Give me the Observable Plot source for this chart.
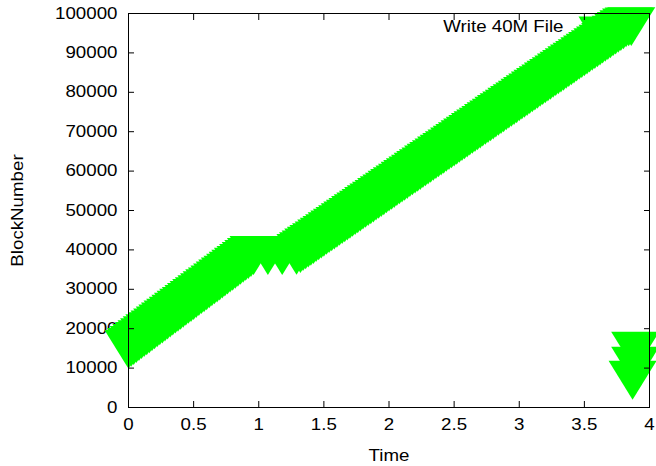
<!DOCTYPE html>
<html>
<head>
<meta charset="utf-8">
<script src="https://cdn.jsdelivr.net/npm/d3@7"></script>
<script src="https://cdn.jsdelivr.net/npm/@observablehq/plot@0.6"></script>
<style>
  html, body { margin: 0; padding: 0; background: #fff; }
  #chart { width: 656px; height: 466px; }
</style>
</head>
<body>
<div id="chart"></div>
<script>
// ---- data ----
const xLabel = "Time";
const yLabel = "BlockNumber";
const keyLabel = "Write 40M File";
const xTicks = [0, 0.5, 1, 1.5, 2, 2.5, 3, 3.5, 4];
const yTicks = [0, 10000, 20000, 30000, 40000, 50000, 60000, 70000, 80000, 90000, 100000];

// main write stream (time in s, block number)
const times = [
  0.00, 0.02, 0.04, 0.06, 0.08, 0.10, 0.12, 0.14, 0.16, 0.18, 0.20, 0.22, 0.24, 0.26, 0.28, 0.30,
  0.32, 0.34, 0.36, 0.38, 0.40, 0.42, 0.44, 0.46, 0.48, 0.50, 0.52, 0.54, 0.56, 0.58, 0.60, 0.62,
  0.64, 0.66, 0.68, 0.70, 0.72, 0.74, 0.76, 0.78, 0.80, 0.82, 0.84, 0.86, 0.88, 0.90, 0.92, 0.94, 0.96,
  1.07, 1.18, 1.29,
  1.32, 1.34, 1.36, 1.38, 1.40, 1.42, 1.44, 1.46, 1.48, 1.50, 1.52, 1.54, 1.56, 1.58, 1.60, 1.62,
  1.64, 1.66, 1.68, 1.70, 1.72, 1.74, 1.76, 1.78, 1.80, 1.82, 1.84, 1.86, 1.88, 1.90, 1.92, 1.94,
  1.96, 1.98, 2.00, 2.02, 2.04, 2.06, 2.08, 2.10, 2.12, 2.14, 2.16, 2.18, 2.20, 2.22, 2.24, 2.26,
  2.28, 2.30, 2.32, 2.34, 2.36, 2.38, 2.40, 2.42, 2.44, 2.46, 2.48, 2.50, 2.52, 2.54, 2.56, 2.58,
  2.60, 2.62, 2.64, 2.66, 2.68, 2.70, 2.72, 2.74, 2.76, 2.78, 2.80, 2.82, 2.84, 2.86, 2.88, 2.90,
  2.92, 2.94, 2.96, 2.98, 3.00, 3.02, 3.04, 3.06, 3.08, 3.10, 3.12, 3.14, 3.16, 3.18, 3.20, 3.22,
  3.24, 3.26, 3.28, 3.30, 3.32, 3.34, 3.36, 3.38, 3.40, 3.42, 3.44, 3.46, 3.48, 3.50, 3.52, 3.54,
  3.56, 3.58, 3.60, 3.62, 3.64, 3.66, 3.68, 3.70, 3.72, 3.74, 3.76, 3.78, 3.80, 3.82, 3.84, 3.86
];
const blocks = [
  16400, 16900, 17390, 17890, 18380, 18880, 19380, 19870, 20370, 20860, 21360, 21860, 22350, 22850, 23340, 23840,
  24340, 24830, 25330, 25820, 26320, 26820, 27310, 27810, 28300, 28800, 29300, 29790, 30290, 30780, 31280, 31780,
  32270, 32770, 33260, 33760, 34260, 34750, 35250, 35740, 36240, 36740, 37230, 37730, 38220, 38720, 39220, 39710, 40210,
  40200, 40200, 40250,
  40740, 41200, 41660, 42120, 42570, 43030, 43490, 43950, 44400, 44860, 45320, 45780, 46240, 46690, 47150, 47610,
  48070, 48530, 48980, 49440, 49900, 50360, 50820, 51270, 51730, 52190, 52650, 53110, 53560, 54020, 54480, 54940,
  55400, 55850, 56310, 56770, 57230, 57690, 58140, 58600, 59060, 59520, 59980, 60430, 60890, 61350, 61810, 62270,
  62720, 63180, 63640, 64100, 64560, 65010, 65470, 65930, 66390, 66850, 67300, 67760, 68220, 68680, 69140, 69590,
  70050, 70510, 70970, 71430, 71880, 72340, 72800, 73260, 73720, 74170, 74630, 75090, 75550, 76010, 76460, 76920,
  77380, 77840, 78300, 78750, 79210, 79670, 80130, 80590, 81040, 81500, 81960, 82420, 82880, 83330, 83790, 84250,
  84710, 85170, 85620, 86080, 86540, 87000, 87460, 87910, 88370, 88830, 89290, 89750, 90200, 90660, 91120, 91580,
  92040, 92490, 92950, 93410, 93870, 94330, 94780, 95240, 95700, 96160, 96620, 97070, 97530, 97990, 98250, 98300
];

// isolated low-block writes at the end
const metaTimes = [3.89, 3.89, 3.87];
const metaBlocks = [15940, 12130, 8550];

// ---- build ----
const GREEN = "#00ff00";
const band = times.map((t, i) => ({t, b: blocks[i]}));
const meta = metaTimes.map((t, i) => ({t, b: metaBlocks[i]}));

// gnuplot-style filled down-triangle
const triDown = {
  draw(ctx, size) {
    const r = Math.sqrt(size / Math.PI);
    ctx.moveTo(-r, -0.54 * r);
    ctx.lineTo(r, -0.54 * r);
    ctx.lineTo(0, 1.08 * r);
    ctx.closePath();
  }
};

const chart = Plot.plot({
  width: 656,
  height: 466,
  marginLeft: 128,
  marginRight: 7,
  marginTop: 13,
  marginBottom: 59,
  x: {domain: [0, 4]},
  y: {domain: [0, 100000]},
  style: {fontFamily: "'Liberation Sans', Arial, sans-serif", fontSize: "16px", color: "black", background: "white"},
  marks: [
    Plot.axisX(xTicks, {tickSize: 0, tickPadding: 11, tickFormat: d => String(d), label: null}),
    Plot.axisY(yTicks, {tickSize: 0, tickPadding: 11, tickFormat: d => String(d), label: null}),
    Plot.text([yLabel], {frameAnchor: "left", dx: -111, rotate: -90, textAnchor: "middle", lineAnchor: "middle", fill: "black"}),
    Plot.text([xLabel], {frameAnchor: "bottom", dy: 48, textAnchor: "middle", lineAnchor: "middle", fill: "black"}),
    Plot.text([keyLabel], {frameAnchor: "top-right", dx: -86, dy: 13, textAnchor: "end", lineAnchor: "middle", fill: "black"}),
    Plot.dot([keyLabel], {frameAnchor: "top-right", dx: -47, dy: 16, symbol: triDown, r: 24, fill: GREEN, stroke: "none"}),
    Plot.dot(band, {x: "t", y: "b", symbol: triDown, r: 24, fill: GREEN, stroke: "none"}),
    Plot.dot(meta, {x: "t", y: "b", symbol: triDown, r: 24, fill: GREEN, stroke: "none"}),
    Plot.frame({stroke: "black"}),
    Plot.axisX(xTicks, {anchor: "bottom", tickSize: 6, dy: -6, fill: "none", label: null}),
    Plot.axisX(xTicks, {anchor: "top", tickSize: 6, dy: 6, fill: "none", label: null}),
    Plot.axisY(yTicks, {anchor: "left", tickSize: 6, dx: 6, fill: "none", label: null}),
    Plot.axisY(yTicks, {anchor: "right", tickSize: 6, dx: -6, fill: "none", label: null})
  ]
});

// gnuplot's font renders wider than Liberation Sans: stretch text horizontally about its anchor
const S = 1.17;
chart.querySelectorAll("text").forEach(el => {
  const x = +el.getAttribute("x") || 0;
  const tr = el.getAttribute("transform") || "";
  el.setAttribute("transform", `${tr} translate(${x},0) scale(${S},1) translate(${-x},0)`);
});

document.getElementById("chart").appendChild(chart);
</script>
</body>
</html>
